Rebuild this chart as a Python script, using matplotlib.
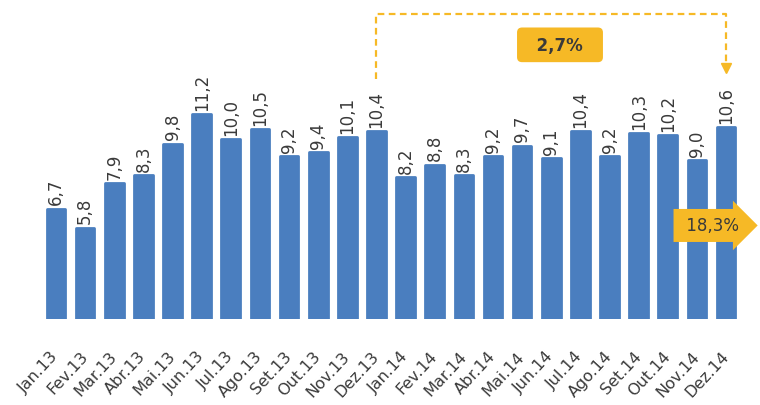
import matplotlib.pyplot as plt

# data
months = ['Jan.13', 'Fev.13', 'Mar.13', 'Abr.13', 'Mai.13', 'Jun.13', 'Jul.13', 'Ago.13',
          'Set.13', 'Out.13', 'Nov.13', 'Dez.13', 'Jan.14', 'Fev.14', 'Mar.14', 'Abr.14',
          'Mai.14', 'Jun.14', 'Jul.14', 'Ago.14', 'Set.14', 'Out.14', 'Nov.14', 'Dez.14']
values = [6.7, 5.8, 7.9, 8.3, 9.8, 11.2, 10.0, 10.5, 9.2, 9.4, 10.1, 10.4,
          8.2, 8.8, 8.3, 9.2, 9.7, 9.1, 10.4, 9.2, 10.3, 10.2, 9.0, 10.6]
yoy_label = '2,7%'   # Dez.13 -> Dez.14
ytd_label = '18,3%'

blue = '#4A7EBF'
gold = '#F6B926'
text_col = '#3A3A3A'

plt.rcParams['font.family'] = ['DejaVu Sans']

fig = plt.figure(figsize=(7.6, 4.06), dpi=100)
ax = fig.add_axes([0.02, 0.212, 0.966, 0.776])

x = list(range(len(values)))
ax.bar(x, values, width=0.64, color=blue, edgecolor=blue, linewidth=2.0,
       joinstyle='round', bottom=0)

for i, v in zip(x, values):
    ax.annotate(f'{v:.1f}'.replace('.', ','), (i, v), xytext=(0, 3),
                textcoords='offset points', rotation=90, ha='center', va='bottom',
                fontsize=12, color=text_col)

# month labels, rotated, ending under each bar
for i, m in zip(x, months):
    ax.annotate(m, (i, 0), xycoords=('data', 'axes fraction'), xytext=(-4, -21),
                textcoords='offset points', rotation=47, rotation_mode='anchor',
                ha='right', va='top', fontsize=11.5, color=text_col,
                annotation_clip=False)

ax.set_xlim(-1.4, 23.8)
ax.set_ylim(1.45, 16.45)
ax.set_xticks([])
ax.set_yticks([])
for s in ax.spines.values():
    s.set_visible(False)

# dashed bracket Dez.13 -> Dez.14
i0, i1 = months.index('Dez.13'), months.index('Dez.14')
top = max(values) + 4.75
ax.plot([i0, i0, i1, i1], [values[i0] + 2.45, top, top, values[i1] + 2.9],
        ls=(0, (3, 2)), color=gold, lw=1.6, clip_on=False)
ax.plot([i1], [values[i1] + 2.8], marker='v', color=gold, markersize=7, clip_on=False)
ax.text((i0 + i1) / 2 + 0.3, top - 1.45, '  ' + yoy_label + '  ', ha='center', va='center',
        fontsize=12, fontweight='bold', color=text_col,
        bbox=dict(boxstyle='round,pad=0.5,rounding_size=0.3', fc=gold, ec='none'))

# block arrow
ax.text(i1 - 0.55, 5.9, ' ' + ytd_label, ha='center', va='center', fontsize=12,
        color=text_col, clip_on=False,
        bbox=dict(boxstyle='rarrow,pad=0.45', fc=gold, ec='none'))

fig.savefig('out.png', dpi=100)
